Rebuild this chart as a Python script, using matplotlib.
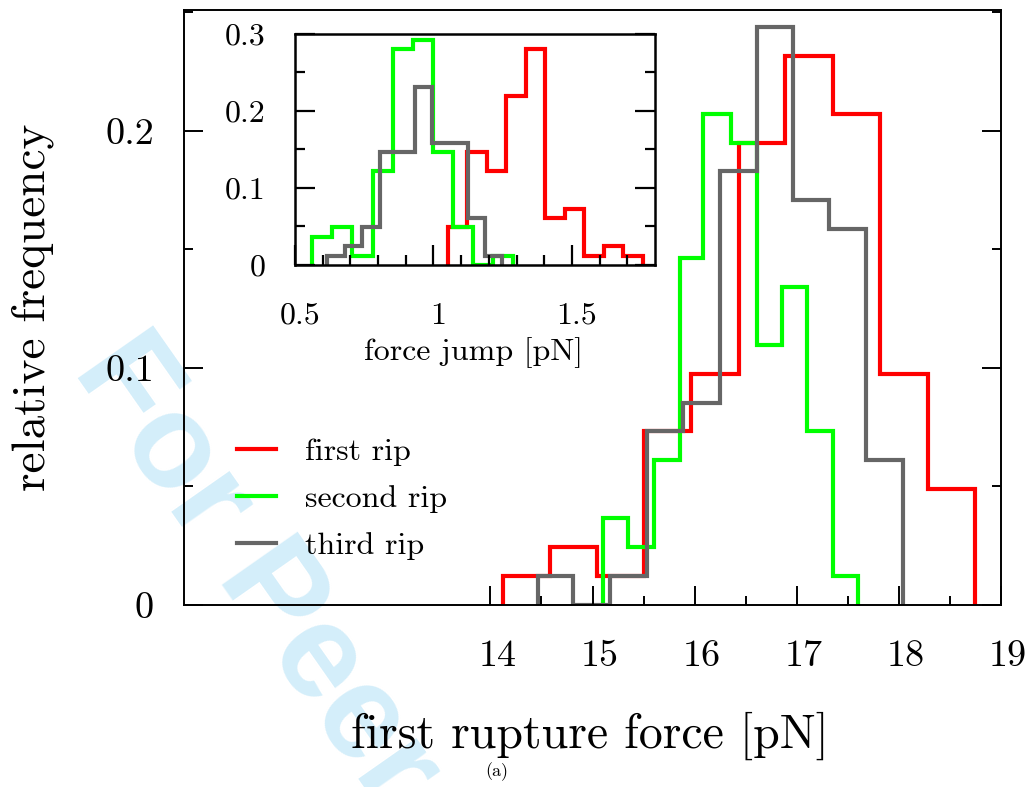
import numpy as np
import matplotlib
matplotlib.use("Agg")
import matplotlib.pyplot as plt
import matplotlib.transforms as mtransforms
from matplotlib.lines import Line2D
from matplotlib.ticker import FixedLocator, FixedFormatter

plt.rcParams['font.family'] = ['cmr10', 'DejaVu Serif']
plt.rcParams['axes.formatter.use_mathtext'] = True

# main histograms: first rupture force [pN] -> relative frequency
first_edges = [14.12, 14.58, 15.04, 15.50, 15.96, 16.43, 16.88, 17.355, 17.81, 18.28, 18.74]
first_freq = [0.0122, 0.0244, 0.0122, 0.0732, 0.0976, 0.1951, 0.2317, 0.2073, 0.0976, 0.0488]

second_edges = [15.10, 15.35, 15.60, 15.855, 16.08, 16.355, 16.606, 16.858, 17.104, 17.35, 17.60]
second_freq = [0.0366, 0.0244, 0.0610, 0.1463, 0.2073, 0.1951, 0.1098, 0.1341, 0.0732, 0.0122]

third_edges = [14.465, 14.81, 15.17, 15.53, 15.89, 16.245, 16.606, 16.96, 17.32, 17.68, 18.04]
third_freq = [0.0122, 0.0, 0.0122, 0.0732, 0.0854, 0.1829, 0.2439, 0.1707, 0.1585, 0.0610]

# inset histograms: force jump [pN]
jump1_edges = [1.052, 1.122, 1.193, 1.263, 1.333, 1.404, 1.474, 1.544, 1.614, 1.685, 1.755]
jump1_freq = [0.0488, 0.1463, 0.1220, 0.2195, 0.2805, 0.0610, 0.0732, 0.0122, 0.0244, 0.0122]

jump2_edges = [0.5626, 0.635, 0.7075, 0.78, 0.8525, 0.925, 0.9975, 1.07, 1.1425, 1.215, 1.2875]
jump2_freq = [0.0366, 0.0488, 0.0122, 0.1220, 0.2805, 0.2927, 0.1463, 0.0488, 0.0, 0.0122]

jump3_edges = [0.6165, 0.680, 0.743, 0.806, 0.870, 0.933, 0.996, 1.060, 1.123, 1.186, 1.249]
jump3_freq = [0.0122, 0.0244, 0.0488, 0.1463, 0.1463, 0.2317, 0.1585, 0.1585, 0.0610, 0.0122]

labels = ['first rip', 'second rip', 'third rip']
colors = ['#ff0000', '#00ff00', '#666666']

fig = plt.figure(figsize=(10.28, 7.87), dpi=100)
ax = fig.add_axes([0.179, 0.2313, 0.7948, 0.756])
ax.patch.set_visible(False)

for e, f, c in zip([first_edges, second_edges, third_edges],
                   [first_freq, second_freq, third_freq], colors):
    ax.stairs(f, e, baseline=0, color=c, lw=3)

ax.set_xlim(11, 19)
ax.set_ylim(0, 0.251)
ax.xaxis.set_major_locator(FixedLocator([14, 15, 16, 17, 18, 19]))
ax.xaxis.set_major_formatter(FixedFormatter(['14', '15', '16', '17', '18', '19']))
ax.xaxis.set_minor_locator(FixedLocator([14.5, 15.5, 16.5, 17.5, 18.5]))
ax.yaxis.set_major_locator(FixedLocator([0, 0.1, 0.2]))
ax.yaxis.set_major_formatter(FixedFormatter(['0', '0.1', '0.2']))
ax.yaxis.set_minor_locator(FixedLocator([0.05, 0.15, 0.25]))
ax.tick_params(which='both', direction='in', width=1.4, top=False,
               left=True, right=True)
ax.tick_params(which='major', length=13.7)
ax.tick_params(which='minor', length=6.5)
ax.tick_params(axis='x', which='major', labelsize=27.5, pad=25)
ax.tick_params(axis='y', which='major', labelsize=27.5, pad=21.6)
for s in ax.spines.values():
    s.set_linewidth(1.4)

off = mtransforms.ScaledTranslation(0.07, 0, fig.dpi_scale_trans)
for lab in ax.get_xticklabels():
    lab.set_transform(lab.get_transform() + off)

ax.set_xlabel('first rupture force [pN]', fontsize=34.5, va='baseline')
ax.xaxis.set_label_coords(0.497, -0.24)
ax.set_ylabel('relative frequency', fontsize=34, va='center')
ax.yaxis.set_label_coords(-0.185, 0.5)

handles = [Line2D([], [], color=c, lw=3) for c in colors]
leg = ax.legend(handles, labels, loc='upper left', frameon=False, fontsize=23,
                bbox_to_anchor=(237 / 1028, 1 - 438 / 787),
                bbox_transform=fig.transFigure, borderpad=0, borderaxespad=0,
                handlelength=1.22, handletextpad=0.91, labelspacing=0.58)

# inset
axi = fig.add_axes([0.287, 0.6633, 0.3502, 0.2935])
for e, f, c in zip([jump1_edges, jump2_edges, jump3_edges],
                   [jump1_freq, jump2_freq, jump3_freq], colors):
    axi.stairs(f, e, baseline=0, color=c, lw=3)
axi.set_xlim(0.5, 1.8)
axi.set_ylim(0, 0.3)
axi.xaxis.set_major_locator(FixedLocator([0.5, 1.0, 1.5]))
axi.xaxis.set_major_formatter(FixedFormatter(['0.5', '1', '1.5']))
axi.xaxis.set_minor_locator(FixedLocator([0.6, 0.7, 0.8, 0.9, 1.1, 1.2, 1.3, 1.4, 1.6, 1.7]))
axi.yaxis.set_major_locator(FixedLocator([0, 0.1, 0.2, 0.3]))
axi.yaxis.set_major_formatter(FixedFormatter(['0', '0.1', '0.2', '0.3']))
axi.yaxis.set_minor_locator(FixedLocator([0.05, 0.15, 0.25]))
axi.tick_params(which='both', direction='in', width=1.6, top=False,
                left=True, right=True)
axi.tick_params(which='major', length=14.4)
axi.tick_params(which='minor', length=7.2)
axi.tick_params(axis='x', which='major', labelsize=23, pad=27)
axi.tick_params(axis='y', which='major', labelsize=23, pad=21)
for s in axi.spines.values():
    s.set_linewidth(1.8)
offi = mtransforms.ScaledTranslation(0.05, 0, fig.dpi_scale_trans)
for lab in axi.get_xticklabels():
    lab.set_transform(lab.get_transform() + offi)
axi.set_xlabel('force jump [pN]', fontsize=23, va='baseline')
axi.xaxis.set_label_coords(0.497, -0.411)

fig.text(255 / 1028, 1 - 572 / 787, 'For Peer', family='Liberation Sans',
         weight='bold', fontsize=96, color='#d4eefa', rotation=-55,
         ha='center', va='center', rotation_mode='anchor', zorder=-5)
fig.text(497 / 1028, 1 - 772 / 787, '(a)', fontsize=13, ha='center', va='center')

fig.savefig('out.png', dpi=100)
